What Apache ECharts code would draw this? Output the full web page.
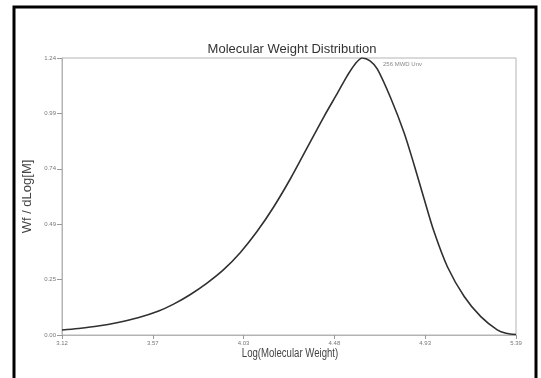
<!DOCTYPE html>
<html>
<head>
<meta charset="utf-8">
<script src="https://cdn.jsdelivr.net/npm/echarts@6/dist/echarts.min.js"></script>
<style>
  html, body { margin: 0; padding: 0; background: #fff; }
  #chart { width: 541px; height: 378px; }
</style>
</head>
<body>
<div id="chart"></div>
<script>
// Log(M) positions and the weight-fraction curve Wf / dLog[M]
const logM = [3.12, 3.20, 3.30, 3.40, 3.50, 3.60, 3.678, 3.76, 3.845, 3.928, 4.012, 4.095,
              4.179, 4.262, 4.346, 4.43, 4.50, 4.546, 4.585, 4.621, 4.66, 4.697, 4.763,
              4.83, 4.88, 4.93, 4.98, 5.047, 5.131, 5.214, 5.298, 5.34, 5.39];
const wf   = [0.022, 0.029, 0.040, 0.056, 0.077, 0.106, 0.138, 0.180, 0.232, 0.292, 0.369, 0.462,
              0.573, 0.698, 0.837, 0.976, 1.085, 1.158, 1.210, 1.2375, 1.225, 1.188, 1.060,
              0.905, 0.762, 0.610, 0.462, 0.305, 0.172, 0.082, 0.022, 0.008, 0.002];

// Axis ticks and their printed labels
const xTicks = [3.12, 3.574, 4.028, 4.482, 4.936, 5.39];
const xTickLabels = ['3.12', '3.57', '4.03', '4.48', '4.93', '5.39'];
const yTicks = [0, 0.2475, 0.495, 0.7425, 0.99, 1.2375];
const yTickLabels = ['0.00', '0.25', '0.49', '0.74', '0.99', '1.24'];

const seriesName = '256 MWD Unv';
const xAxisTitle = 'Log(Molecular Weight)';

function labelFor(ticks, labels, v) {
  let best = 0;
  for (let i = 1; i < ticks.length; i++) {
    if (Math.abs(ticks[i] - v) < Math.abs(ticks[best] - v)) best = i;
  }
  return labels[best];
}

const chart = echarts.init(document.getElementById('chart'), null, { renderer: 'canvas' });
const font = 'Liberation Sans, Arial, sans-serif';

chart.setOption({
  backgroundColor: '#fff',
  animation: false,
  title: {
    text: 'Molecular Weight Distribution',
    left: 287, top: 38, textAlign: 'center',
    textStyle: { fontFamily: font, fontSize: 13, fontWeight: 'normal', color: '#333' }
  },
  grid: {
    left: 62, top: 58, right: 25, bottom: 43,
    show: true, borderColor: '#b4b4b4', borderWidth: 1, backgroundColor: 'transparent'
  },
  xAxis: {
    type: 'value', min: 3.12, max: 5.39,
    axisLine: { show: true, lineStyle: { color: '#b4b4b4' } },
    axisTick: { show: true, length: 4, customValues: xTicks, lineStyle: { color: '#999' } },
    axisLabel: {
      customValues: xTicks, fontFamily: font, fontSize: 6, color: '#777', margin: 5,
      formatter: v => labelFor(xTicks, xTickLabels, v)
    },
    splitLine: { show: false }
  },
  yAxis: {
    type: 'value', min: 0, max: 1.2375,
    name: 'Wf / dLog[M]', nameLocation: 'middle', nameGap: 28, nameRotate: 90,
    nameTextStyle: { fontFamily: font, fontSize: 13, color: '#444' },
    axisLine: { show: true, lineStyle: { color: '#b4b4b4' } },
    axisTick: { show: true, length: 5, customValues: yTicks, lineStyle: { color: '#999' } },
    axisLabel: {
      customValues: yTicks, fontFamily: font, fontSize: 6, color: '#777', margin: 6,
      formatter: v => labelFor(yTicks, yTickLabels, v)
    },
    splitLine: { show: false }
  },
  series: [{
    name: seriesName,
    type: 'line',
    data: logM.map((x, i) => [x, wf[i]]),
    smooth: 0.3,
    showSymbol: false,
    lineStyle: { color: '#303030', width: 1.6 },
    clip: true
  }],
  graphic: [
    {
      // condensed x-axis title under the plot
      type: 'text', x: 290, y: 354, scaleX: 0.8,
      style: {
        text: xAxisTitle, fontFamily: font, fontSize: 12, fill: '#444',
        align: 'center', verticalAlign: 'middle'
      }
    },
    {
      type: 'text', left: 383, top: 61,
      style: { text: seriesName, fontFamily: font, fontSize: 6, fill: '#888' }
    },
    {
      type: 'rect', shape: { x: 14, y: 7, width: 522, height: 400 },
      style: { fill: 'none', stroke: '#000', lineWidth: 3 }
    }
  ]
});
</script>
</body>
</html>
